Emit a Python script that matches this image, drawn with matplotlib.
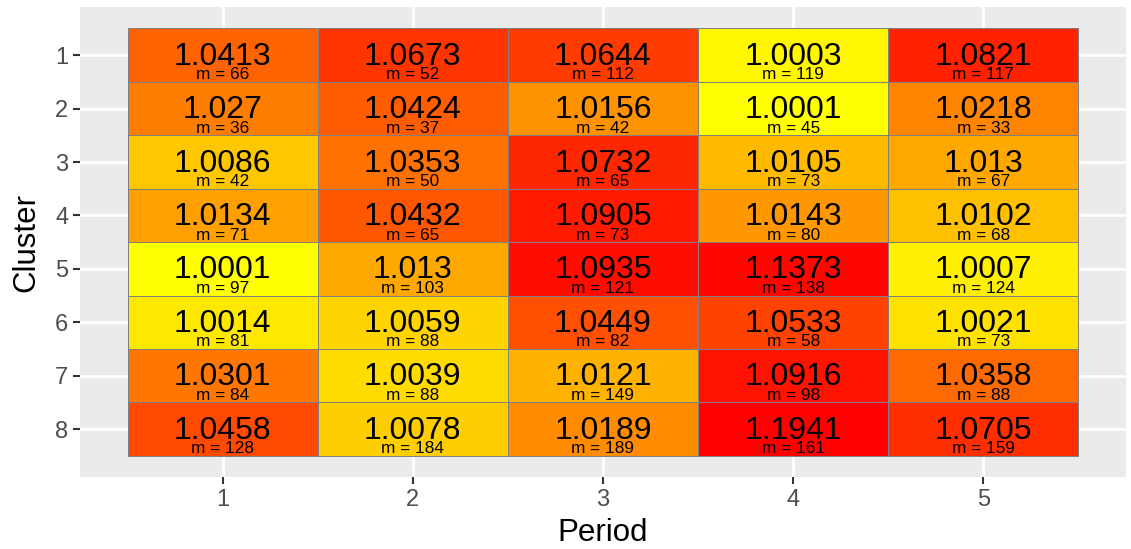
import matplotlib
matplotlib.use("Agg")
import matplotlib.pyplot as plt
import numpy as np
import pandas as pd
from matplotlib.colors import LinearSegmentedColormap

plt.rcParams["font.family"] = ["Liberation Sans", "DejaVu Sans"]

periods = [1, 2, 3, 4, 5]
clusters = [1, 2, 3, 4, 5, 6, 7, 8]

# ratio per cluster (rows) and period (columns)
values = [
    [1.0413, 1.0673, 1.0644, 1.0003, 1.0821],
    [1.027, 1.0424, 1.0156, 1.0001, 1.0218],
    [1.0086, 1.0353, 1.0732, 1.0105, 1.013],
    [1.0134, 1.0432, 1.0905, 1.0143, 1.0102],
    [1.0001, 1.013, 1.0935, 1.1373, 1.0007],
    [1.0014, 1.0059, 1.0449, 1.0533, 1.0021],
    [1.0301, 1.0039, 1.0121, 1.0916, 1.0358],
    [1.0458, 1.0078, 1.0189, 1.1941, 1.0705],
]
counts = [
    [66, 52, 112, 119, 117],
    [36, 37, 42, 45, 33],
    [42, 50, 65, 73, 67],
    [71, 65, 73, 80, 68],
    [97, 103, 121, 138, 124],
    [81, 88, 82, 58, 73],
    [84, 88, 149, 98, 88],
    [128, 184, 189, 161, 159],
]

vals = np.array(values)
ranks = pd.Series(vals.ravel()).rank(method="average").to_numpy().reshape(vals.shape)

cmap = LinearSegmentedColormap.from_list("yr", ["#FFFF00", "#FF0000"])

fig = plt.figure(figsize=(11.31, 5.49), dpi=100)
ax = fig.add_axes([0.0707, 0.131, 0.9249, 0.856])
ax.set_facecolor("#EBEBEB")

ax.set_xlim(0.25, 5.75)
ax.set_ylim(8.9, 0.1)
ax.set_xticks(periods)
ax.set_yticks(clusters)
ax.grid(True, color="white", linewidth=2)
ax.set_axisbelow(True)

xe = np.arange(0.5, len(periods) + 1, 1)
ye = np.arange(0.5, len(clusters) + 1, 1)
ax.pcolormesh(xe, ye, ranks, cmap=cmap, vmin=ranks.min(), vmax=ranks.max(),
              edgecolors="#808080", linewidth=0.6, zorder=2)

for i, c in enumerate(clusters):
    for j, p in enumerate(periods):
        ax.text(p, c + 0.03, f"{values[i][j]:g}", ha="center", va="center",
                fontsize=23, color="black", zorder=3)
        ax.text(p, c + 0.37, f"m = {counts[i][j]}", ha="center", va="center",
                fontsize=12.4, color="black", zorder=3)

for s in ax.spines.values():
    s.set_visible(False)
ax.tick_params(colors="#333333", labelcolor="#4D4D4D", labelsize=17,
               length=5, width=1.5)
ax.set_xlabel("Period", fontsize=22.5, labelpad=5)
ax.set_ylabel("Cluster", fontsize=22.5, labelpad=10)

fig.savefig("out.png", dpi=100)
